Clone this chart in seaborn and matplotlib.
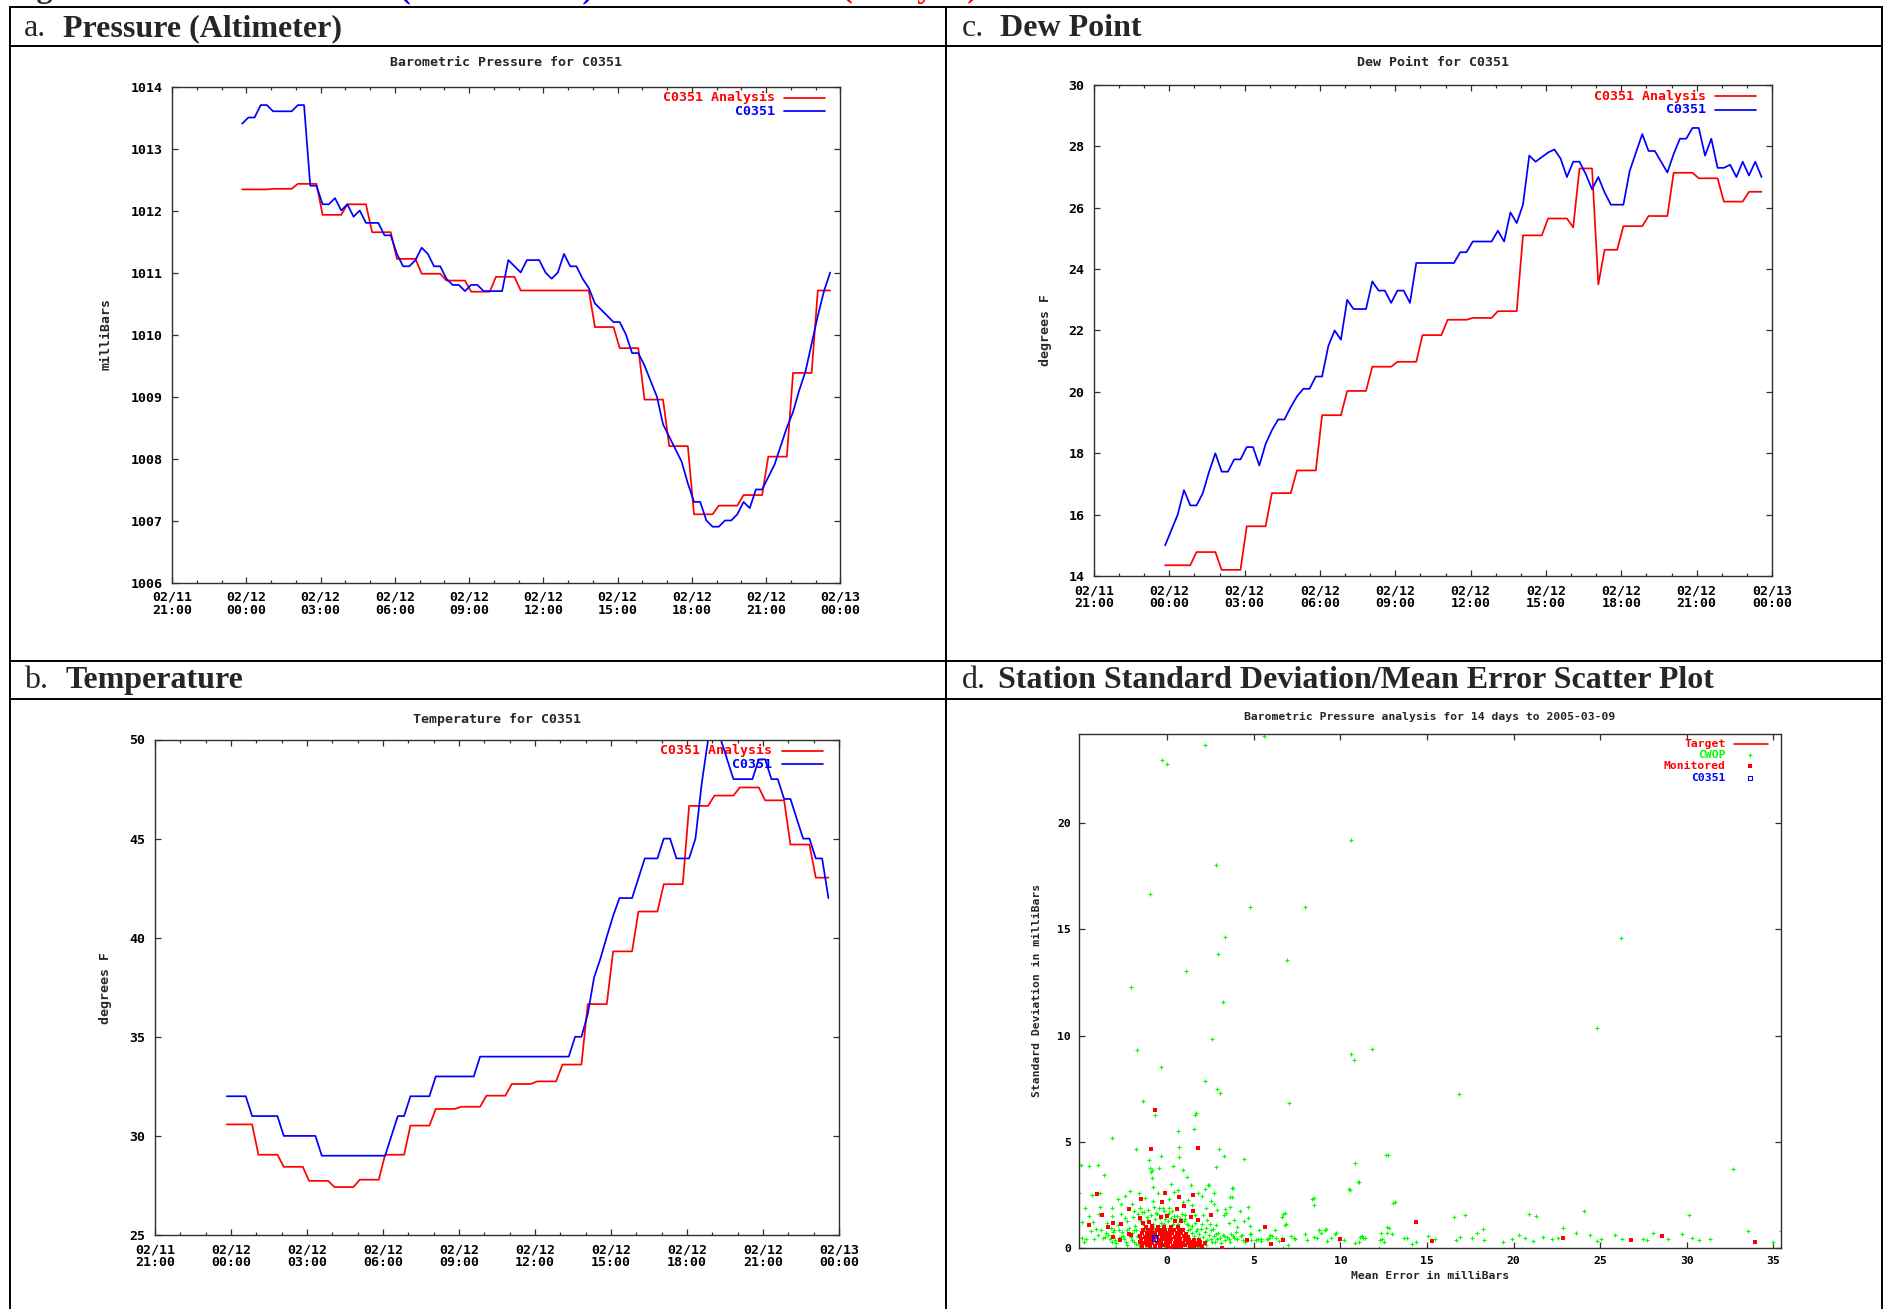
import numpy as np
import pandas as pd
import matplotlib
matplotlib.use("Agg")
import matplotlib.pyplot as plt
import matplotlib.dates as mdates
from matplotlib.lines import Line2D
import seaborn as sns

# ---------------------------------------------------------------------------
# Station C0351 observations and analysis, 15-minute samples from 02/11 23:50
# ---------------------------------------------------------------------------
OBS_START = "2005-02-11 23:50"
OBS_STEP = "15min"

pressure_obs = [
    1013.4, 1013.5, 1013.5, 1013.7, 1013.7, 1013.6, 1013.6, 1013.6,
    1013.6, 1013.7, 1013.7, 1012.4, 1012.4, 1012.1, 1012.1, 1012.2,
    1012.0, 1012.1, 1011.9, 1012.0, 1011.8, 1011.8, 1011.8, 1011.6,
    1011.6, 1011.3, 1011.1, 1011.1, 1011.2, 1011.4, 1011.3, 1011.1,
    1011.1, 1010.9, 1010.8, 1010.8, 1010.7, 1010.8, 1010.8, 1010.7,
    1010.7, 1010.7, 1010.7, 1011.2, 1011.1, 1011.0, 1011.2, 1011.2,
    1011.2, 1011.0, 1010.9, 1011.0, 1011.3, 1011.1, 1011.1, 1010.9,
    1010.75, 1010.5, 1010.4, 1010.3, 1010.2, 1010.2, 1010.0, 1009.7,
    1009.7, 1009.5, 1009.25, 1009.0, 1008.55, 1008.35, 1008.15, 1007.95,
    1007.6, 1007.3, 1007.3, 1007.0, 1006.9, 1006.9, 1007.0, 1007.0,
    1007.1, 1007.3, 1007.2, 1007.5, 1007.5, 1007.7, 1007.9, 1008.2,
    1008.5, 1008.75, 1009.1, 1009.4, 1009.85, 1010.3, 1010.7, 1011.0,
]
pressure_anl = [
    1012.34, 1012.34, 1012.34, 1012.34, 1012.34,
    1012.35, 1012.35, 1012.35, 1012.35,
    1012.43, 1012.43, 1012.43, 1012.43,
    1011.93, 1011.93, 1011.93, 1011.93,
    1012.10, 1012.10, 1012.10, 1012.10,
    1011.65, 1011.65, 1011.65, 1011.65,
    1011.22, 1011.22, 1011.22, 1011.22,
    1010.98, 1010.98, 1010.98, 1010.98,
    1010.87, 1010.87, 1010.87, 1010.87,
    1010.69, 1010.69, 1010.69, 1010.69,
    1010.93, 1010.93, 1010.93, 1010.93,
    1010.71, 1010.71, 1010.71, 1010.71,
    1010.71, 1010.71, 1010.71, 1010.71,
    1010.71, 1010.71, 1010.71, 1010.71,
    1010.12, 1010.12, 1010.12, 1010.12,
    1009.78, 1009.78, 1009.78, 1009.78,
    1008.95, 1008.95, 1008.95, 1008.95,
    1008.20, 1008.20, 1008.20, 1008.20,
    1007.10, 1007.10, 1007.10, 1007.10,
    1007.24, 1007.24, 1007.24, 1007.24,
    1007.41, 1007.41, 1007.41, 1007.41,
    1008.03, 1008.03, 1008.03, 1008.03,
    1009.38, 1009.38, 1009.38, 1009.38,
    1010.71, 1010.71, 1010.71,
]

dewpt_obs = [
    15.0, 15.5, 16.0, 16.8, 16.3, 16.3, 16.7, 17.4,
    18.0, 17.4, 17.4, 17.8, 17.8, 18.2, 18.2, 17.6,
    18.3, 18.75, 19.1, 19.1, 19.5, 19.85, 20.1, 20.1,
    20.5, 20.5, 21.5, 22.0, 21.7, 23.0, 22.7, 22.7,
    22.7, 23.6, 23.3, 23.3, 22.9, 23.3, 23.3, 22.9,
    24.2, 24.2, 24.2, 24.2, 24.2, 24.2, 24.2, 24.55,
    24.55, 24.9, 24.9, 24.9, 24.9, 25.25, 24.9, 25.85,
    25.5, 26.1, 27.7, 27.5, 27.65, 27.8, 27.9, 27.6,
    27.0, 27.5, 27.5, 27.1, 26.6, 27.0, 26.5, 26.1,
    26.1, 26.1, 27.2, 27.8, 28.4, 27.85, 27.85, 27.5,
    27.15, 27.75, 28.25, 28.25, 28.6, 28.6, 27.7, 28.25,
    27.3, 27.3, 27.4, 27.0, 27.5, 27.05, 27.5, 27.0,
]
dewpt_anl = [
    14.35, 14.35, 14.35, 14.35, 14.35,
    14.78, 14.78, 14.78, 14.78,
    14.2, 14.2, 14.2, 14.2,
    15.62, 15.62, 15.62, 15.62,
    16.7, 16.7, 16.7, 16.7,
    17.44, 17.44, 17.44, 17.44,
    19.24, 19.24, 19.24, 19.24,
    20.03, 20.03, 20.03, 20.03,
    20.82, 20.82, 20.82, 20.82,
    20.98, 20.98, 20.98, 20.98,
    21.85, 21.85, 21.85, 21.85,
    22.35, 22.35, 22.35, 22.35,
    22.41, 22.41, 22.41, 22.41,
    22.63, 22.63, 22.63, 22.63,
    25.1, 25.1, 25.1, 25.1,
    25.65, 25.65, 25.65, 25.65,
    25.36, 27.28, 27.28, 27.28,
    23.5, 24.63, 24.63, 24.63,
    25.4, 25.4, 25.4, 25.4,
    25.73, 25.73, 25.73, 25.73,
    27.14, 27.14, 27.14, 27.14,
    26.96, 26.96, 26.96, 26.96,
    26.2, 26.2, 26.2, 26.2,
    26.52, 26.52, 26.52,
]

temp_obs = [
    32.0, 32.0, 32.0, 32.0, 31.0, 31.0, 31.0, 31.0,
    31.0, 30.0, 30.0, 30.0, 30.0, 30.0, 30.0, 29.0,
    29.0, 29.0, 29.0, 29.0, 29.0, 29.0, 29.0, 29.0,
    29.0, 29.0, 30.0, 31.0, 31.0, 32.0, 32.0, 32.0,
    32.0, 33.0, 33.0, 33.0, 33.0, 33.0, 33.0, 33.0,
    34.0, 34.0, 34.0, 34.0, 34.0, 34.0, 34.0, 34.0,
    34.0, 34.0, 34.0, 34.0, 34.0, 34.0, 34.0, 35.0,
    35.0, 36.15, 38.0, 38.95, 40.05, 41.1, 42.0, 42.0,
    42.0, 43.0, 44.0, 44.0, 44.0, 45.0, 45.0, 44.0,
    44.0, 44.0, 45.0, 47.8, 50.0, 50.0, 50.0, 49.0,
    48.0, 48.0, 48.0, 48.0, 49.0, 49.0, 48.0, 48.0,
    47.0, 47.0, 46.0, 45.0, 45.0, 44.0, 44.0, 42.0,
]
temp_anl = [
    30.58, 30.58, 30.58, 30.58, 30.58,
    29.05, 29.05, 29.05, 29.05,
    28.44, 28.44, 28.44, 28.44,
    27.73, 27.73, 27.73, 27.73,
    27.42, 27.42, 27.42, 27.42,
    27.79, 27.79, 27.79, 27.79,
    29.05, 29.05, 29.05, 29.05,
    30.52, 30.52, 30.52, 30.52,
    31.36, 31.36, 31.36, 31.36,
    31.47, 31.47, 31.47, 31.47,
    32.03, 32.03, 32.03, 32.03,
    32.62, 32.62, 32.62, 32.62,
    32.75, 32.75, 32.75, 32.75,
    33.6, 33.6, 33.6, 33.6,
    36.65, 36.65, 36.65, 36.65,
    39.31, 39.31, 39.31, 39.31,
    41.32, 41.32, 41.32, 41.32,
    42.7, 42.7, 42.7, 42.7,
    46.65, 46.65, 46.65, 46.65,
    47.17, 47.17, 47.17, 47.17,
    47.58, 47.58, 47.58, 47.58,
    46.93, 46.93, 46.93, 46.93,
    44.7, 44.7, 44.7, 44.7,
    43.03, 43.03, 43.03,
]

time_ticks = [
    "2005-02-11 21:00", "2005-02-12 00:00", "2005-02-12 03:00",
    "2005-02-12 06:00", "2005-02-12 09:00", "2005-02-12 12:00",
    "2005-02-12 15:00", "2005-02-12 18:00", "2005-02-12 21:00",
    "2005-02-13 00:00",
]
time_tick_labels = [
    "02/11\n21:00", "02/12\n00:00", "02/12\n03:00", "02/12\n06:00",
    "02/12\n09:00", "02/12\n12:00", "02/12\n15:00", "02/12\n18:00",
    "02/12\n21:00", "02/13\n00:00",
]

pressure_ticks = [1006, 1007, 1008, 1009, 1010, 1011, 1012, 1013, 1014]
dewpt_ticks = [14, 16, 18, 20, 22, 24, 26, 28, 30]
temp_ticks = [25, 30, 35, 40, 45, 50]

# ---------------------------------------------------------------------------
# 14-day barometric pressure statistics per station: (mean error, std dev)
# ---------------------------------------------------------------------------
cwop_points = [
    (5.6, 24.1), (2.18, 23.7), (-0.32, 22.96), (0.0, 22.78), (10.63, 19.19),
    (2.84, 18.05), (-1.0, 16.65), (4.8, 16.05), (7.93, 16.05), (3.36, 14.62),
    (26.2, 14.58), (6.9, 13.58), (2.93, 13.82), (1.06, 13.06), (-2.07, 12.3),
    (3.19, 11.59), (24.8, 10.35), (2.61, 9.82), (-1.75, 9.31), (10.6, 9.13),
    (11.84, 9.36), (10.8, 8.83), (-0.34, 8.5), (2.16, 7.88), (2.9, 7.47),
    (3.07, 7.31), (16.87, 7.27), (-1.41, 6.94), (7.01, 6.83), (1.64, 6.37),
    (1.58, 6.28), (-0.69, 6.27), (0.6, 5.5), (1.52, 5.61), (-3.19, 5.19),
    (-1.81, 4.65), (0.69, 4.74), (2.96, 4.65), (12.76, 4.37), (-0.37, 4.35),
    (3.25, 4.35), (4.43, 4.19), (-1.03, 4.12), (0.69, 4.27), (-5.0, 3.89),
    (-4.51, 3.84), (-3.99, 3.89), (-0.98, 3.75), (-0.49, 3.75), (0.32, 3.88),
    (0.89, 3.66), (-0.92, 3.58), (2.84, 3.81), (10.83, 3.98), (32.67, 3.7),
    (-3.68, 3.45), (-0.89, 3.31), (1.12, 3.36), (-0.83, 2.85), (0.2, 2.99),
    (2.36, 2.96), (11.06, 3.1), (10.57, 2.74), (3.79, 2.81), (-5.1, 2.6),
    (2.67, 2.6), (8.45, 2.34), (8.45, 2.04), (13.16, 2.16), (24.08, 1.72),
    (20.92, 1.59), (21.29, 1.49), (16.58, 1.47), (17.18, 1.54), (30.11, 1.54),
    (6.78, 1.63), (6.87, 1.12), (22.84, 0.94), (12.79, 0.94), (18.22, 0.9),
    (8.74, 0.87), (9.17, 0.9), (-0.86, 3.68), (-4.33, 2.49), (-3.86, 2.57),
    (0.4, 2.65), (-1.62, 2.57), (-2.43, 2.46), (-2.87, 2.3), (-2.02, 2.07),
    (-2.68, 2.05), (-4.75, 1.86), (-3.86, 1.94), (-3.19, 1.86), (-3.95, 1.59),
    (-3.21, 1.5), (-4.9, 1.23), (-4.3, 1.23), (-4.1, 0.91), (-4.94, 0.49),
    (-4.68, 0.41), (-4.26, 0.44), (-3.84, 0.87), (-3.54, 0.71), (-3.25, 0.95),
    (-2.81, 0.87), (-2.47, 1.39), (-1.92, 1.74), (-1.58, 1.89), (-1.33, 1.69),
    (-1.1, 1.78), (-0.78, 1.94), (-0.46, 1.86), (-0.68, 1.66), (-0.17, 1.74),
    (0.08, 1.66), (0.11, 1.86), (0.36, 1.5), (1.03, 1.56), (1.22, 2.26),
    (1.41, 2.02), (1.75, 2.6), (1.98, 2.44), (2.17, 2.76), (2.4, 2.95),
    (2.7, 2.57), (2.68, 2.07), (2.26, 1.86), (2.07, 1.55), (2.89, 1.78),
    (3.25, 1.55), (3.33, 1.83), (3.65, 2.41), (3.73, 2.81), (3.4, 1.66),
    (3.59, 1.18), (3.88, 1.31), (4.18, 1.75), (4.45, 1.28), (4.68, 1.39),
    (4.75, 1.03), (5.3, 0.87), (4.81, 0.68), (4.24, 0.55), (3.88, 0.47),
    (3.59, 0.41), (3.31, 0.36), (3.02, 0.49), (2.83, 0.68), (2.64, 0.91),
    (2.45, 1.15), (2.22, 0.96), (1.98, 1.12), (1.71, 0.91), (1.6, 1.2),
    (1.22, 0.84), (1.12, 1.12), (0.65, 0.96), (0.32, 1.12), (0.08, 0.96),
    (-0.21, 1.15), (-0.49, 1.03), (-0.74, 0.96), (-1.01, 0.84), (-1.29, 0.96),
    (-1.54, 0.8), (-1.79, 0.87), (-2.02, 0.71), (-2.3, 0.87), (-2.55, 0.55),
    (-2.78, 0.49), (-3.0, 0.36), (-3.31, 0.43), (-3.59, 0.52), (-3.16, 0.76),
    (-2.4, 0.28), (-2.02, 0.36), (-1.83, 0.17), (-1.44, 0.17), (-1.06, 0.08),
    (-0.4, 0.05), (0.46, 0.05), (1.22, 0.08), (1.79, 0.2), (2.17, 0.33),
    (2.55, 0.44), (2.74, 0.28), (3.27, 0.55), (3.69, 0.68), (3.97, 0.76),
    (4.35, 0.39), (4.83, 0.36), (5.11, 0.36), (5.44, 0.44), (5.74, 0.44),
    (5.93, 0.63), (6.27, 0.49), (6.25, 0.84), (-3.0, 0.0), (-0.15, 0.0),
    (-1.25, 0.0), (-2.98, 0.0), (3.84, 0.0), (6.71, 0.0), (12.22, 0.0),
    (5.23, 0.44), (5.86, 0.48), (6.44, 0.34), (7.16, 0.57), (7.39, 0.44),
    (8.05, 0.37), (8.62, 0.48), (8.88, 0.69), (9.2, 0.35), (9.45, 0.48),
    (9.77, 0.69), (10.23, 0.37), (11.06, 0.3), (11.26, 0.57), (11.41, 0.48),
    (12.39, 0.44), (12.5, 0.3), (12.7, 0.69), (13.85, 0.48), (14.34, 0.3),
    (15.06, 0.57), (15.46, 0.44), (16.7, 0.37), (16.93, 0.51), (17.59, 0.48),
    (17.87, 0.69), (18.28, 0.37), (19.4, 0.3), (19.91, 0.44), (20.29, 0.62),
    (20.66, 0.48), (21.15, 0.34), (21.72, 0.51), (22.24, 0.44), (22.56, 0.48),
    (23.62, 0.69), (24.4, 0.62), (24.83, 0.34), (25.06, 0.44), (25.86, 0.62),
    (26.26, 0.44), (27.47, 0.44), (27.7, 0.37), (28.07, 0.69), (28.94, 0.44),
    (29.71, 0.65), (30.29, 0.48), (30.69, 0.37), (31.32, 0.44), (33.56, 0.78),
    (35.0, 0.3), (35.46, 0.78), (10.51, 2.76), (10.99, 3.11), (8.37, 2.33),
    (13.02, 2.13), (6.71, 1.62), (6.65, 1.47), (6.8, 1.07), (12.64, 4.38),
    (4.64, 1.91), (3.75, 2.41), (12.68, 0.99), (12.36, 0.71), (13.0, 0.65),
    (12.26, 0.36), (13.69, 0.47), (14.14, 0.2), (11.12, 0.52), (11.31, 0.49),
    (10.84, 0.24), (9.94, 0.39), (9.7, 0.68), (9.13, 0.87), (8.75, 0.84),
    (8.5, 0.52), (7.98, 0.68), (7.32, 0.49), (7.0, 0.13), (6.65, 0.47),
    (6.05, 0.58), (5.8, 0.44), (5.44, 0.32), (5.13, 0.36), (4.75, 0.68),
    (-3.4, 0.62), (-3.1, 0.85), (-2.95, 0.22), (-2.85, 1.1), (-2.6, 0.75),
    (-2.5, 0.42), (-2.35, 1.25), (-2.2, 0.95), (-2.1, 0.5), (-2.0, 1.45),
    (-1.95, 0.3), (-1.85, 1.05), (-1.75, 0.55), (-1.7, 1.6), (-1.65, 0.12),
    (-1.55, 1.3), (-1.45, 1.7), (-1.35, 1.1), (-1.2, 1.45), (-1.1, 1.3),
    (-0.95, 1.55), (-0.85, 1.15), (-0.7, 1.35), (-0.6, 1.6), (-0.45, 1.4),
    (-0.35, 1.2), (-0.25, 1.9), (-0.15, 1.35), (-0.05, 1.55), (0.05, 1.25),
    (0.2, 1.4), (0.3, 1.75), (0.42, 1.3), (0.55, 1.5), (0.6, 1.15),
    (0.72, 1.4), (0.85, 1.6), (0.95, 1.25), (1.05, 1.35), (1.2, 1.1),
    (1.3, 0.9), (1.4, 0.7), (1.45, 1.05), (1.55, 0.55), (1.65, 0.8),
    (1.75, 0.45), (1.85, 0.65), (1.95, 0.9), (2.05, 0.5), (2.15, 0.75),
    (2.3, 0.38), (2.4, 0.62), (2.5, 0.85), (2.6, 0.3), (2.7, 0.55),
    (2.85, 0.42), (2.95, 0.7), (3.1, 0.25), (3.2, 0.6), (3.45, 0.5),
    (3.6, 0.3), (3.8, 0.55), (4.05, 0.42), (4.3, 0.6), (4.5, 0.3),
    (-1.9, 0.85), (-2.3, 0.15), (-2.7, 0.5), (-3.2, 0.3), (-3.7, 0.45),
    (-4.0, 0.62), (-4.4, 0.8), (-4.8, 0.3), (-4.55, 1.5), (-3.5, 1.2),
    (-2.65, 1.62), (-1.6, 1.9), (-0.8, 2.2), (0.1, 2.3), (0.9, 2.15),
    (1.6, 1.55), (2.3, 1.3), (2.8, 1.1), (-1.3, 2.35), (-0.55, 2.6),
    (0.6, 2.75), (1.35, 2.95), (-2.15, 2.7), (2.55, 2.2), (3.6, 1.95),
    (4.0, 1.0), (1.8, 0.05), (2.25, 0.15), (-1.0, 0.05), (0.75, 0.02),
    (-0.2, 0.02),
]

monitored_points = [
    (-0.69, 6.5), (-0.95, 4.65), (1.75, 4.73), (-4.05, 2.52), (-1.5, 2.32),
    (-0.13, 2.57), (0.68, 2.41), (1.48, 2.48), (-2.24, 1.85), (-0.3, 2.18),
    (0.57, 1.85), (0.99, 2.0), (-3.75, 1.56), (1.5, 1.75), (-1.58, 1.4),
    (-3.12, 1.18), (-2.7, 1.12), (-4.54, 1.07), (-3.42, 0.98), (2.55, 1.56),
    (1.77, 1.31), (1.35, 1.45), (0.0, 1.5), (-0.34, 1.47), (0.46, 1.26),
    (0.8, 1.25), (-1.39, 1.18), (-1.06, 1.21), (-2.22, 0.65), (-2.07, 0.6),
    (-3.12, 0.5), (-2.72, 0.36), (5.63, 0.98), (5.97, 0.2), (4.6, 0.39),
    (3.16, 0.0), (0.17, 0.0), (14.37, 1.24), (6.7, 0.39), (10.0, 0.44),
    (15.29, 0.34), (22.87, 0.48), (26.78, 0.39), (28.59, 0.58), (33.97, 0.3),
    # dense core of well-behaved monitored stations
    (-1.45, 0.1), (-1.2, 0.12), (-0.98, 0.09), (-0.71, 0.11), (-0.44, 0.1),
    (-0.2, 0.13), (0.06, 0.1), (0.31, 0.08), (0.55, 0.11), (0.8, 0.1),
    (1.05, 0.12), (1.3, 0.09), (1.52, 0.11), (1.78, 0.13), (2.0, 0.1),
    (-1.58, 0.26), (-1.33, 0.24), (-1.1, 0.27), (-0.86, 0.25), (-0.6, 0.23),
    (-0.35, 0.26), (-0.1, 0.25), (0.15, 0.28), (0.42, 0.24), (0.68, 0.26),
    (0.93, 0.25), (1.18, 0.23), (1.42, 0.27), (1.65, 0.24), (1.9, 0.26),
    (2.15, 0.25), (-1.5, 0.41), (-1.25, 0.39), (-1.0, 0.42), (-0.75, 0.4),
    (-0.5, 0.38), (-0.26, 0.41), (0.0, 0.4), (0.24, 0.43), (0.5, 0.39),
    (0.76, 0.41), (1.0, 0.4), (1.25, 0.38), (1.55, 0.4), (1.85, 0.37),
    (-1.55, 0.56), (-1.3, 0.54), (-1.05, 0.57), (-0.82, 0.55), (-0.57, 0.53),
    (-0.32, 0.56), (-0.07, 0.55), (0.18, 0.57), (0.44, 0.54), (0.7, 0.56),
    (0.95, 0.55), (1.2, 0.53), (-1.45, 0.71), (-1.2, 0.69), (-0.95, 0.72),
    (-0.7, 0.7), (-0.45, 0.68), (-0.2, 0.71), (0.05, 0.7), (0.3, 0.72),
    (0.56, 0.69), (0.82, 0.71), (1.08, 0.68), (-1.4, 0.86), (-1.12, 0.84),
    (-0.88, 0.87), (-0.62, 0.85), (-0.38, 0.83), (-0.12, 0.86), (0.14, 0.85),
    (0.4, 0.87), (0.65, 0.84), (0.9, 0.86), (-1.25, 1.0), (-0.9, 1.02),
    (-0.55, 0.99), (-0.2, 1.01), (0.22, 1.0), (0.6, 0.98),
]

c0351_point = [(-0.76, 0.47)]

scatter_xticks = [0, 5, 10, 15, 20, 25, 30, 35]
scatter_yticks = [0, 5, 10, 15, 20]

# ---------------------------------------------------------------------------
RED, BLUE, GREEN = "#ff0000", "#0000ff", "#00ff00"
MONO = ["DejaVu Sans Mono"]
SERIF = ["Liberation Serif", "DejaVu Serif"]

sns.set_theme(style="white")
plt.rcParams["font.family"] = MONO
plt.rcParams["font.weight"] = "bold"

W, H = 1893, 1309
fig = plt.figure(figsize=(W / 100, H / 100), dpi=100)
fig.patch.set_facecolor("white")


def fx(x):
    return x / W


def fy(y):
    return 1 - y / H


def px_axes(left, top, right, bottom):
    return fig.add_axes([fx(left), fy(bottom), (right - left) / W, (bottom - top) / H])


# ---- table frame and headings ----
frame = [
    ((10, 7), (1882, 7)), ((10, 46), (1882, 46)),
    ((10, 661), (1882, 661)), ((10, 699), (1882, 699)),
    ((10, 7), (10, 1309)), ((946, 7), (946, 1309)), ((1882, 7), (1882, 1309)),
]
for (x0, y0), (x1, y1) in frame:
    fig.add_artist(Line2D([fx(x0), fx(x1)], [fy(y0), fy(y1)],
                          transform=fig.transFigure, color="black", lw=1.4))

HEAD_FS = 23


def heading(x_tag, x_text, y_base, tag, text):
    fig.text(fx(x_tag), fy(y_base), tag, fontsize=HEAD_FS, family=SERIF,
             weight="normal", va="baseline")
    fig.text(fx(x_text), fy(y_base), text, fontsize=HEAD_FS, family=SERIF,
             weight="bold", va="baseline")


heading(24, 63, 36, "a.", "Pressure (Altimeter)")
heading(962, 1000, 36, "c.", "Dew Point")
heading(24, 66, 688, "b.", "Temperature")
heading(962, 998, 688, "d.", "Station Standard Deviation/Mean Error Scatter Plot")

# caption line running above the table (only its lower edge is on the page)
cap_y = fy(-3)
fig.text(fx(8), cap_y, "Figure 5.  Station C0351", fontsize=HEAD_FS, family=SERIF,
         weight="bold", va="baseline")
fig.text(fx(400), cap_y, "(Station Data)", fontsize=HEAD_FS, family=SERIF,
         weight="bold", va="baseline", color=BLUE)
fig.text(fx(600), cap_y, "and the Model", fontsize=HEAD_FS, family=SERIF,
         weight="bold", va="baseline")
fig.text(fx(842), cap_y, "(Analysis)", fontsize=HEAD_FS, family=SERIF,
         weight="bold", va="baseline", color=RED)


def style_box(ax, fs, xpad, ypad):
    ax.set_facecolor("white")
    ax.grid(False)
    for s in ax.spines.values():
        s.set_visible(True)
        s.set_color("#303030")
        s.set_linewidth(1.0)
    ax.tick_params(which="both", direction="in", top=True, right=True,
                   bottom=True, left=True, color="#303030", labelcolor="black",
                   labelsize=fs)
    ax.tick_params(which="major", length=4.0, width=0.9)
    ax.tick_params(which="minor", length=2.0, width=0.9)
    ax.tick_params(axis="x", which="major", pad=xpad)
    ax.tick_params(axis="y", which="major", pad=ypad)
    ax.set_xlabel("")
    ax.set_ylabel("")


obs_times = pd.date_range(OBS_START, periods=len(pressure_obs), freq=OBS_STEP)
tick_nums = mdates.date2num(pd.to_datetime(time_ticks))
TS_FS = 9.5


def station_panel(box, obs, anl, title, title_xy, ylabel, ylabel_xy, yticks):
    ax = px_axes(*box)
    n = len(obs)
    df = pd.DataFrame({
        "time": list(obs_times[:n]) * 2,
        "value": list(anl) + list(obs),
        "series": ["C0351 Analysis"] * n + ["C0351"] * n,
    })
    sns.lineplot(data=df, x="time", y="value", hue="series",
                 hue_order=["C0351 Analysis", "C0351"],
                 palette={"C0351 Analysis": RED, "C0351": BLUE},
                 estimator=None, sort=False, legend=False, linewidth=1.25, ax=ax)
    ax.set_xlim(tick_nums[0], tick_nums[-1])
    ax.set_ylim(yticks[0], yticks[-1])
    ax.set_yticks(yticks)
    ax.set_yticklabels([str(t) for t in yticks])
    ax.set_xticks(tick_nums)
    ax.set_xticklabels(time_tick_labels)
    ax.xaxis.set_minor_locator(mdates.HourLocator())
    style_box(ax, TS_FS, 6.0, 7.0)
    for lab in ax.get_xticklabels():
        lab.set_linespacing(1.0)
    # key in the upper right corner
    for row_y, label, color in [(0.977, "C0351 Analysis", RED), (0.950, "C0351", BLUE)]:
        ax.text(0.902, row_y, label, color=color, ha="right", va="center",
                fontsize=TS_FS, transform=ax.transAxes, zorder=1)
        ax.plot([0.916, 0.977], [row_y, row_y], color=color, lw=1.25,
                transform=ax.transAxes, zorder=1)
    fig.text(fx(title_xy[0]), fy(title_xy[1]), title, ha="center", va="center",
             fontsize=TS_FS)
    fig.text(fx(ylabel_xy[0]), fy(ylabel_xy[1]), ylabel, ha="center", va="center",
             rotation=90, fontsize=TS_FS)
    return ax


station_panel((172, 86.5, 840.5, 582.5), pressure_obs, pressure_anl,
              "Barometric Pressure for C0351", (506, 63),
              "milliBars", (106, 334), pressure_ticks)
station_panel((1094, 85, 1772, 576), dewpt_obs, dewpt_anl,
              "Dew Point for C0351", (1433, 63),
              "degrees F", (1045, 330), dewpt_ticks)
station_panel((155, 739.5, 839, 1235), temp_obs, temp_anl,
              "Temperature for C0351", (497, 720),
              "degrees F", (106, 988), temp_ticks)

# ---- scatter of station statistics ----
SC_FS = 8.2
axd = px_axes(1079, 734, 1781, 1248)
cw = np.array(cwop_points)
mo = np.array(monitored_points)
st = np.array(c0351_point)
sns.scatterplot(x=cw[:, 0], y=cw[:, 1], marker="+", color=GREEN, s=8,
                linewidth=0.8, ax=axd, zorder=2)
sns.scatterplot(x=mo[:, 0], y=mo[:, 1], marker="s", color=RED, s=7,
                linewidth=0, ax=axd, zorder=3)
sns.scatterplot(x=st[:, 0], y=st[:, 1], marker="s", facecolor="none",
                edgecolor=BLUE, s=14, linewidth=0.8, ax=axd, zorder=4)
sns.scatterplot(x=st[:, 0], y=st[:, 1], marker="s", color=BLUE, s=1.2,
                linewidth=0, ax=axd, zorder=5)
axd.set_xlim(-5.1, 35.45)
axd.set_ylim(0, 24.2)
axd.set_xticks(scatter_xticks)
axd.set_xticklabels([str(t) for t in scatter_xticks])
axd.set_yticks(scatter_yticks)
axd.set_yticklabels([str(t) for t in scatter_yticks])
style_box(axd, SC_FS, 5.8, 5.6)

key_rows = [0.981, 0.959, 0.937, 0.915]
axd.text(0.921, key_rows[0], "Target", color=RED, ha="right", va="center",
         fontsize=SC_FS, transform=axd.transAxes, zorder=1)
axd.plot([0.933, 0.981], [key_rows[0]] * 2, color=RED, lw=1.2,
         transform=axd.transAxes, zorder=1)
axd.text(0.921, key_rows[1], "CWOP", color=GREEN, ha="right", va="center",
         fontsize=SC_FS, transform=axd.transAxes, zorder=1)
axd.plot([0.956], [key_rows[1]], marker="+", color=GREEN, ms=2.5, mew=0.8,
         transform=axd.transAxes, zorder=1)
axd.text(0.921, key_rows[2], "Monitored", color=RED, ha="right", va="center",
         fontsize=SC_FS, transform=axd.transAxes, zorder=1)
axd.plot([0.956], [key_rows[2]], marker="s", color=RED, ms=2.2, mew=0,
         transform=axd.transAxes, zorder=1)
axd.text(0.921, key_rows[3], "C0351", color=BLUE, ha="right", va="center",
         fontsize=SC_FS, transform=axd.transAxes, zorder=1)
axd.plot([0.956], [key_rows[3]], marker="s", mfc="none", mec=BLUE, ms=3.5, mew=0.8,
         transform=axd.transAxes, zorder=1)

fig.text(fx(1430), fy(717), "Barometric Pressure analysis for 14 days to 2005-03-09",
         ha="center", va="center", fontsize=SC_FS)
fig.text(fx(1430), fy(1276), "Mean Error in milliBars", ha="center", va="center",
         fontsize=SC_FS)
fig.text(fx(1037), fy(990), "Standard Deviation in milliBars", ha="center",
         va="center", rotation=90, fontsize=SC_FS)

fig.savefig("out.png", dpi=100, facecolor="white")
